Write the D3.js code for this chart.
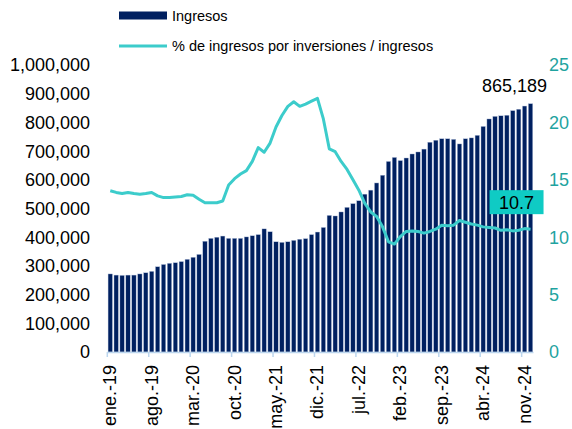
<!DOCTYPE html>
<html>
<head>
<meta charset="utf-8">
<script src="https://cdn.jsdelivr.net/npm/d3@7"></script>
<style>
  body { margin: 0; background: #fff; }
  text { font-family: "Liberation Sans", Arial, sans-serif; }
</style>
</head>
<body>
<div id="chart"></div>
<script>
// month names and years for the category axis
var monthNames = ["ene.", "feb.", "mar.", "abr.", "may.", "jun.", "jul.", "ago.", "sep.", "oct.", "nov.", "dic."];
var years = ["19", "20", "21", "22", "23", "24"];

// ingresos (monthly, ene.-19 .. dic.-24)
var ingresos = [
  272000, 268000, 267000, 268000, 268000, 272000, 276000, 281000, 297000, 305000, 309000, 311000,
  315000, 323000, 330000, 340000, 386000, 396000, 400000, 404000, 396000, 396000, 396000, 401000,
  405000, 409000, 429000, 419000, 384000, 382000, 384000, 389000, 393000, 395000, 409000, 418000,
  434000, 476000, 474000, 488000, 504000, 517000, 527000, 550000, 564000, 589000, 616000, 664000,
  678000, 667000, 676000, 690000, 697000, 707000, 731000, 738000, 743000, 743000, 741000, 725000,
  743000, 746000, 755000, 786000, 812000, 821000, 823000, 825000, 841000, 846000, 857000, 865189
];

// % de ingresos por inversiones / ingresos
var pctInversiones = [
  14.05, 13.9, 13.8, 13.9, 13.8, 13.75, 13.8, 13.9, 13.6, 13.45, 13.45, 13.5,
  13.55, 13.7, 13.65, 13.3, 13.0, 13.0, 13.0, 13.15, 14.55, 15.1, 15.5, 15.8,
  16.6, 17.8, 17.4, 18.2, 19.6, 20.6, 21.4, 21.8, 21.4, 21.6, 21.85, 22.1,
  20.3, 17.7, 17.45, 16.6, 15.9, 15.0, 14.1, 12.95, 12.2, 11.8, 10.9, 9.6,
  9.4, 10.05, 10.5, 10.55, 10.5, 10.35, 10.5, 10.7, 11.05, 11.0, 11.05, 11.45,
  11.3, 11.15, 11.05, 10.9, 10.85, 10.8, 10.6, 10.65, 10.55, 10.6, 10.75, 10.7
];

// tick values for both y axes
var leftTicks = [0, 100000, 200000, 300000, 400000, 500000, 600000, 700000, 800000, 900000, 1000000];
var rightTicks = [0, 5, 10, 15, 20, 25];

var lastLabel = "865,189";
var lastPctLabel = "10.7";

// build category names like "ene.-19"
var categories = [];
years.forEach(function(y) {
  monthNames.forEach(function(m) { categories.push(m + "-" + y); });
});

var data = categories.map(function(c, i) {
  return { cat: c, ing: ingresos[i], pct: pctInversiones[i] };
});

var width = 572, height = 429;
var plot = { left: 107.3, right: 533.5, top: 65, bottom: 352 };

var svg = d3.select("#chart")
  .append("svg")
  .attr("width", width)
  .attr("height", height);

// scales
var x = d3.scaleBand()
  .domain(categories)
  .range([plot.left, plot.right])
  .paddingInner(0.26)
  .paddingOuter(0.13);

var yLeft = d3.scaleLinear().domain([0, 1000000]).range([plot.bottom, plot.top]);
var yRight = d3.scaleLinear().domain([0, 25]).range([plot.bottom, plot.top]);

var fmt = d3.format(",");

// left axis labels
svg.append("g")
  .selectAll("text")
  .data(leftTicks)
  .enter()
  .append("text")
  .attr("x", 90)
  .attr("y", function(d) { return yLeft(d); })
  .attr("dy", "0.36em")
  .attr("text-anchor", "end")
  .attr("font-size", 18)
  .attr("fill", "#000")
  .text(function(d) { return fmt(d); });

// right axis labels
svg.append("g")
  .selectAll("text")
  .data(rightTicks)
  .enter()
  .append("text")
  .attr("x", 549)
  .attr("y", function(d) { return yRight(d); })
  .attr("dy", "0.36em")
  .attr("text-anchor", "start")
  .attr("font-size", 18)
  .attr("fill", "#1fa39f")
  .text(function(d) { return d; });

// bars
svg.append("g")
  .selectAll("rect")
  .data(data)
  .enter()
  .append("rect")
  .attr("x", function(d) { return x(d.cat); })
  .attr("y", function(d) { return yLeft(d.ing); })
  .attr("width", x.bandwidth())
  .attr("height", function(d) { return yLeft(0) - yLeft(d.ing); })
  .attr("fill", "#002060")
  .attr("stroke", "#b9c6df")
  .attr("stroke-width", 0.4);

// x axis line + ticks every 7 months
var step = x.step();
var tickIdx = d3.range(0, categories.length, 7);

svg.append("line")
  .attr("x1", plot.left)
  .attr("x2", plot.right)
  .attr("y1", plot.bottom + 0.5)
  .attr("y2", plot.bottom + 0.5)
  .attr("stroke", "#bcd6ee")
  .attr("stroke-width", 1.5);

svg.append("g")
  .selectAll("line")
  .data(tickIdx)
  .enter()
  .append("line")
  .attr("x1", function(i) { return x(categories[i]) - step * x.paddingInner() / 2; })
  .attr("x2", function(i) { return x(categories[i]) - step * x.paddingInner() / 2; })
  .attr("y1", plot.bottom)
  .attr("y2", plot.bottom + 5)
  .attr("stroke", "#bcd6ee")
  .attr("stroke-width", 1.5);

// x labels, rotated
svg.append("g")
  .selectAll("text")
  .data(tickIdx)
  .enter()
  .append("text")
  .attr("transform", function(i) {
    return "translate(" + (x(categories[i]) + x.bandwidth() / 2 + 6) + "," + 365 + ") rotate(-90)";
  })
  .attr("text-anchor", "end")
  .attr("font-size", 18)
  .attr("fill", "#000")
  .text(function(i) { return categories[i]; });

// line series
var line = d3.line()
  .x(function(d) { return x(d.cat) + x.bandwidth() / 2; })
  .y(function(d) { return yRight(d.pct); });

svg.append("path")
  .datum(data)
  .attr("d", line)
  .attr("fill", "none")
  .attr("stroke", "#3ccccb")
  .attr("stroke-width", 3)
  .attr("stroke-linejoin", "round");

// label on last bar
var last = data[data.length - 1];
svg.append("text")
  .attr("x", x(last.cat) + x.bandwidth() / 2 - 16)
  .attr("y", yLeft(last.ing) - 12)
  .attr("text-anchor", "middle")
  .attr("font-size", 18)
  .attr("fill", "#000")
  .text(lastLabel);

// boxed label for last pct value
var bx = x(last.cat) + x.bandwidth() / 2 - 14;
var by = yRight(last.pct) - 27;
svg.append("rect")
  .attr("x", bx - 27)
  .attr("y", by - 12)
  .attr("width", 54)
  .attr("height", 24)
  .attr("fill", "#0fcbc4");
svg.append("text")
  .attr("x", bx)
  .attr("y", by)
  .attr("dy", "0.36em")
  .attr("text-anchor", "middle")
  .attr("font-size", 18)
  .attr("fill", "#000")
  .text(lastPctLabel);

// legend
var legend = svg.append("g");
legend.append("rect")
  .attr("x", 119).attr("y", 11.5)
  .attr("width", 48).attr("height", 8)
  .attr("fill", "#002060");
legend.append("text")
  .attr("x", 172).attr("y", 15.5)
  .attr("dy", "0.36em")
  .attr("font-size", 14.5)
  .text("Ingresos");
legend.append("line")
  .attr("x1", 119).attr("x2", 167)
  .attr("y1", 46).attr("y2", 46)
  .attr("stroke", "#3ccccb")
  .attr("stroke-width", 3);
legend.append("text")
  .attr("x", 172).attr("y", 46)
  .attr("dy", "0.36em")
  .attr("font-size", 14.5)
  .text("% de ingresos por inversiones / ingresos");
</script>
</body>
</html>
